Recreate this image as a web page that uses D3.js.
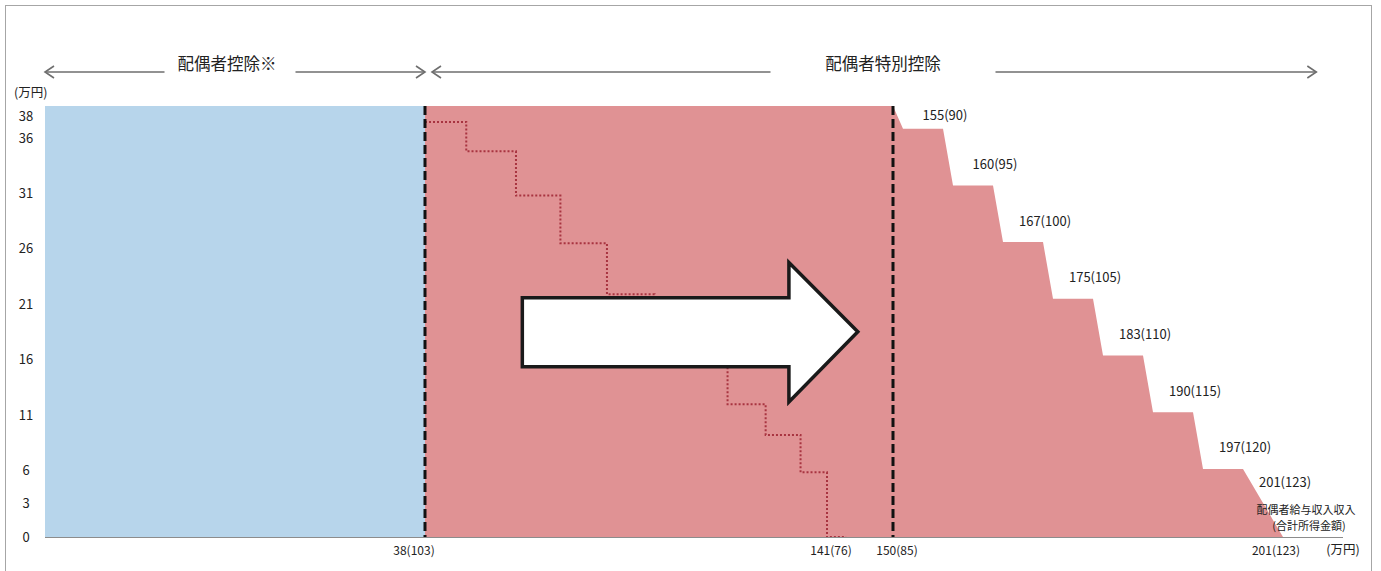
<!DOCTYPE html>
<html>
<head>
<meta charset="utf-8">
<script src="https://cdn.jsdelivr.net/npm/d3@7"></script>
<style>
  html, body { margin: 0; padding: 0; background: #fff; }
  svg { display: block; font-family: "Noto Sans CJK JP", "Noto Sans", sans-serif; }
</style>
</head>
<body>
<svg id="chart" width="1381" height="571"></svg>
<script>
// ---- data (万円) ----
// 配偶者控除 (blue area): spouse 合計所得 range and deduction
const blueIncome = [0, 38];
const blueDeduct = [38, 38];
// 配偶者特別控除 (new system, pink area)
const specialIncome = [38, 85, 86, 90, 91, 95, 96, 100, 101, 105, 106, 110, 111, 115, 116, 120, 123];
const specialDeduct = [38, 38, 36, 36, 31, 31, 26, 26, 21, 21, 16, 16, 11, 11, 6, 6, 0];
// Old system (dotted step line): breakpoints and levels
const oldIncome = [38, 41.9, 46.6, 50.8, 55.2, 59.7, 66.6, 70.2, 73.5, 76, 78.6];
const oldDeduct = [36.6, 34.0, 30.1, 25.9, 21.4, 16.5, 11.7, 9.0, 5.7, 0, 0];
// Step labels: 給与収入(合計所得)
const stepLabelIncome = [90, 95, 100, 105, 110, 115, 120, 123];
const stepLabelSalary = [155, 160, 167, 175, 183, 190, 197, 201];
const stepLabelLevel  = [36, 31, 26, 21, 16, 11, 6, 3];
// Axis ticks
const yTicks = [0, 3, 6, 11, 16, 21, 26, 31, 36, 38];
const xTickIncome = [38, 76, 85, 123];
const xTickSalary = [38, 141, 150, 201];
const xTickShown  = [103, 76, 85, 123];
// Boundaries (dashed lines)
const boundaries = [38, 85];
// Annotation arrow (data units)
const arrowX = { shaft0: 47.2, head: 72.4, tip: 80.2 };
const arrowY = { shaftTop: 21.1, shaftBot: 15.0, headTop: 24.2, headBot: 11.9, tip: 18.1 };
// Top span annotations
const spans = [
  { from: 0, to: 38, label: "配偶者控除※" },
  { from: 38, to: 125.5, label: "配偶者特別控除" }
];
const axisEnd = 127.5;

// ---- scales ----
const x = d3.scaleLinear().domain([0, 38, 76, 85, 120, 123]).range([45, 425, 827, 893, 1243, 1283]);
const y = d3.scaleLinear().domain([0, 38]).range([537, 106]);
// tick labels in the reference sit on a slightly compressed scale
const yLabel = d3.scaleLinear().domain([0, 38]).range([537, 116]);

const svg = d3.select("#chart");

// frame
svg.append("rect").attr("x", 5.5).attr("y", 5.5).attr("width", 1366).attr("height", 600)
  .attr("fill", "none").attr("stroke", "#a6a6a6").attr("stroke-width", 1);

const area = d3.area().x(d => x(d[0])).y0(y(0)).y1(d => y(d[1]));

svg.append("path").datum(d3.zip(blueIncome, blueDeduct))
  .attr("d", area).attr("fill", "#b7d5eb");
svg.append("path").datum(d3.zip(specialIncome, specialDeduct))
  .attr("d", area).attr("fill", "#e09294");

// old system dotted step line
const oldLine = d3.line().x(d => x(d[0])).y(d => y(d[1])).curve(d3.curveStepAfter);
svg.append("path").datum(d3.zip(oldIncome, oldDeduct))
  .attr("d", oldLine).attr("fill", "none")
  .attr("stroke", "#a83440").attr("stroke-width", 2).attr("stroke-dasharray", "2,2");

// dashed boundaries
svg.selectAll("line.bound").data(boundaries).enter().append("line")
  .attr("x1", d => x(d)).attr("x2", d => x(d))
  .attr("y1", y(38)).attr("y2", y(0))
  .attr("stroke", "#111").attr("stroke-width", 3).attr("stroke-dasharray", "9,4");

// x axis line
svg.append("line").attr("x1", x(0)).attr("x2", x(axisEnd)).attr("y1", y(0) + 0.5).attr("y2", y(0) + 0.5)
  .attr("stroke", "#8c8c8c").attr("stroke-width", 1);

// big arrow
const arrowPts = [
  [arrowX.shaft0, arrowY.shaftTop], [arrowX.head, arrowY.shaftTop], [arrowX.head, arrowY.headTop],
  [arrowX.tip, arrowY.tip], [arrowX.head, arrowY.headBot], [arrowX.head, arrowY.shaftBot],
  [arrowX.shaft0, arrowY.shaftBot]
];
svg.append("path")
  .attr("d", d3.line().x(d => x(d[0])).y(d => y(d[1]))(arrowPts) + "Z")
  .attr("fill", "#fff").attr("stroke", "#1a1a1a").attr("stroke-width", 3.5)
  .attr("stroke-linejoin", "miter");

// y tick labels
svg.selectAll("text.ytick").data(yTicks).enter().append("text")
  .attr("x", 26).attr("y", d => yLabel(d)).attr("dy", "0.35em")
  .attr("text-anchor", "middle").attr("font-size", 13).attr("fill", "#222")
  .text(d => d);
svg.append("text").attr("x", 14).attr("y", 93).attr("dy", "0.35em")
  .attr("font-size", 12.5).attr("fill", "#222").text("(万円)");

// x tick labels
svg.selectAll("text.xtick").data(d3.range(xTickIncome.length)).enter().append("text")
  .attr("x", i => x(xTickIncome[i]) + (i === 0 ? -11 : (i === 3 ? -7 : 4)))
  .attr("y", 551).attr("dy", "0.35em")
  .attr("text-anchor", "middle").attr("font-size", 12).attr("fill", "#222")
  .text(i => `${xTickSalary[i]}(${xTickShown[i]})`);
svg.append("text").attr("x", x(axisEnd)).attr("y", 550).attr("dy", "0.35em")
  .attr("text-anchor", "middle").attr("font-size", 12.5).attr("fill", "#222").text("(万円)");

// step labels
svg.selectAll("text.step").data(d3.range(stepLabelIncome.length)).enter().append("text")
  .attr("x", i => x(stepLabelIncome[i]) + 2)
  .attr("y", i => Math.max(y(stepLabelLevel[i]) - 21, y(38) + 9)).attr("dy", "0.35em")
  .attr("text-anchor", "middle").attr("font-size", 13).attr("fill", "#222")
  .text(i => `${stepLabelSalary[i]}(${stepLabelIncome[i]})`);

// bottom-right caption
svg.append("text").attr("x", x(123) + 23).attr("y", 510).attr("dy", "0.35em")
  .attr("text-anchor", "middle").attr("font-size", 11).attr("fill", "#222").text("配偶者給与収入収入");
svg.append("text").attr("x", x(123) + 26).attr("y", 526).attr("dy", "0.35em")
  .attr("text-anchor", "middle").attr("font-size", 11).attr("fill", "#222").text("(合計所得金額)");

// top span arrows
const spanY = 72;
spans.forEach((s, i) => {
  const x0 = x(s.from) + (i === 0 ? 0 : 7);
  const x1 = x(s.to);
  const cx = i === 0 ? 227 : 883;
  const tw = i === 0 ? 125 : 225;
  const g = svg.append("g").attr("stroke", "#6e6e6e").attr("stroke-width", 1.6).attr("fill", "none");
  g.append("line").attr("x1", x0).attr("x2", cx - tw / 2).attr("y1", spanY).attr("y2", spanY);
  g.append("line").attr("x1", cx + tw / 2 + (i === 0 ? 6 : 0)).attr("x2", x1).attr("y1", spanY).attr("y2", spanY);
  g.append("path").attr("d", `M${x0 + 9},${spanY - 6}L${x0},${spanY}L${x0 + 9},${spanY + 6}`);
  g.append("path").attr("d", `M${x1 - 9},${spanY - 6}L${x1},${spanY}L${x1 - 9},${spanY + 6}`);
  svg.append("text").attr("x", cx).attr("y", spanY - 8).attr("dy", "0.35em")
    .attr("text-anchor", "middle").attr("font-size", 16.5).attr("fill", "#222").text(s.label);
});
</script>
</body>
</html>
